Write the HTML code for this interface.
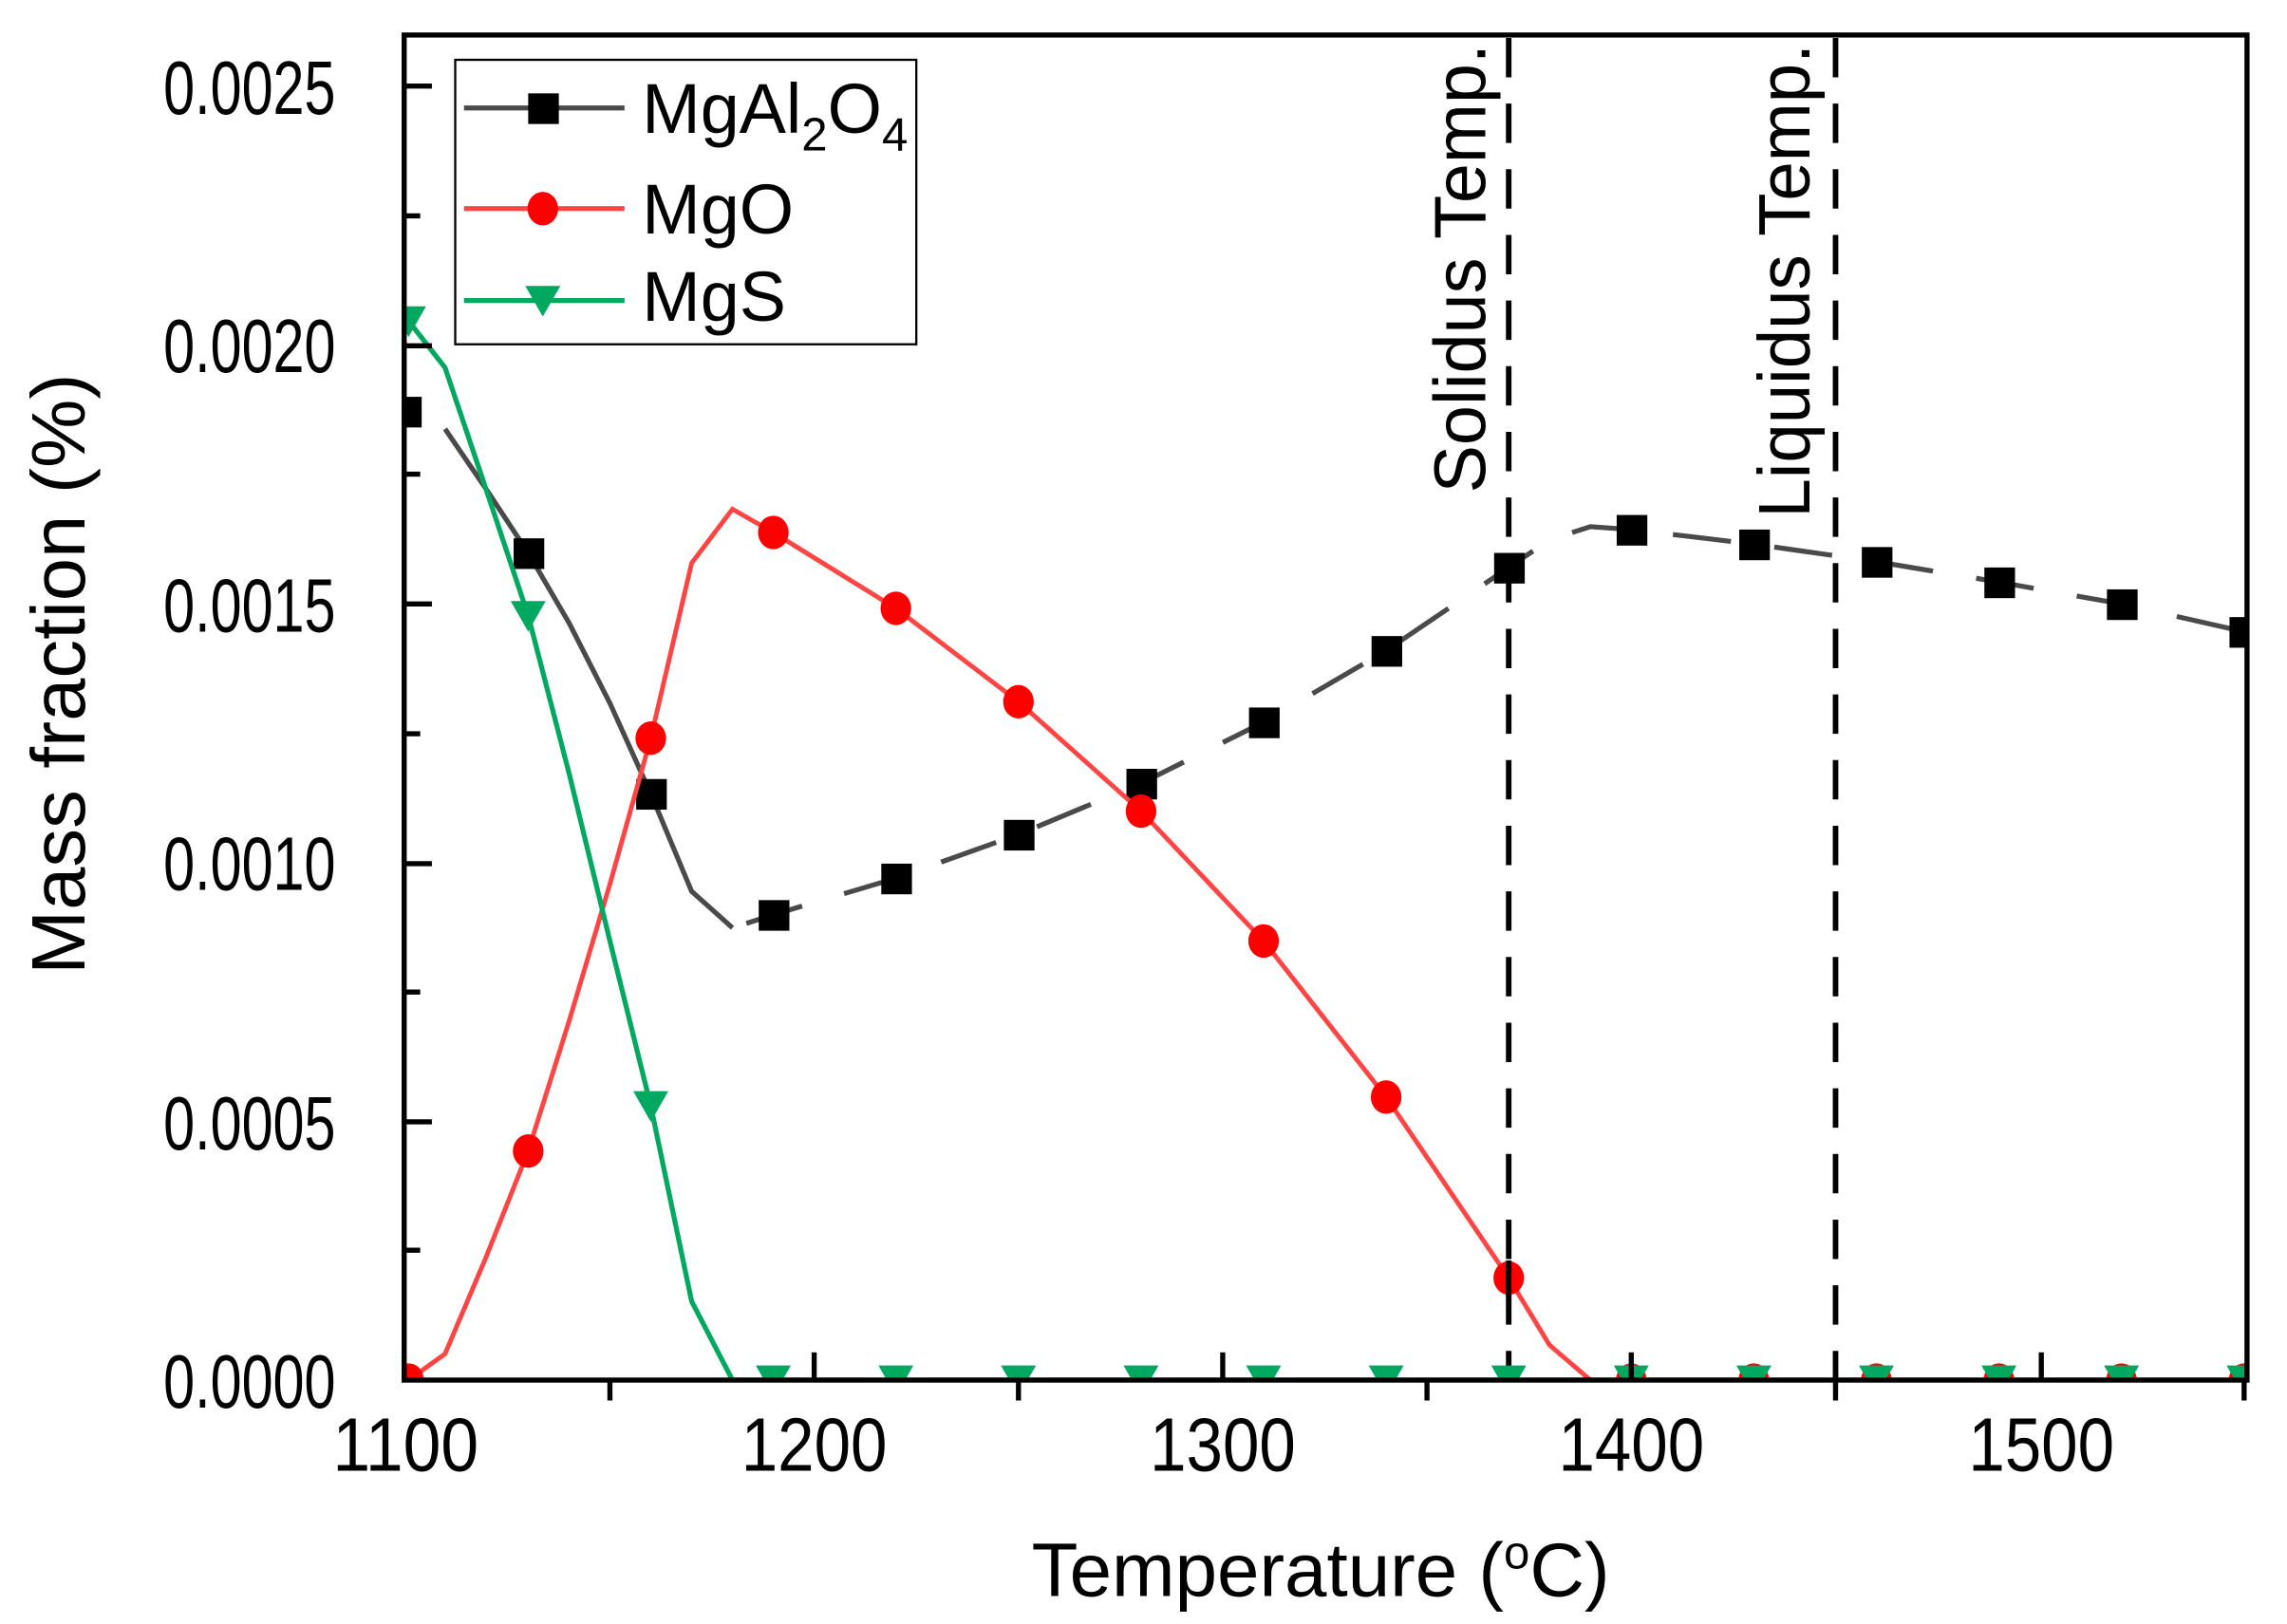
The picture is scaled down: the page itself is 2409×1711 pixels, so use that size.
<!DOCTYPE html>
<html><head><meta charset="utf-8"><style>html,body{margin:0;padding:0;background:#fff}svg{display:block}</style></head>
<body>
<svg width="2409" height="1711" viewBox="0 0 1567.4 1113.2" preserveAspectRatio="none" xmlns="http://www.w3.org/2000/svg" font-family="Liberation Sans, Arial, sans-serif">
<defs>
<clipPath id="c"><rect x="277" y="24" width="1263" height="922"/></clipPath>
</defs>
<rect width="1567.4" height="1113.2" fill="#fff"/>
<g clip-path="url(#c)">
<line x1="1034" y1="26" x2="1034" y2="946" stroke="#000" stroke-width="3.8" stroke-dasharray="27,18"/>
<line x1="1258" y1="26" x2="1258" y2="946" stroke="#000" stroke-width="3.8" stroke-dasharray="27,18"/>
<polyline fill="none" stroke="#4a4a4a" stroke-width="3.4" points="305,294 333,335 362,379 390,427 418,482 446,544 474,611 502,636"/>
<polyline fill="none" stroke="#4a4a4a" stroke-width="3.4" stroke-dasharray="40,30" stroke-dashoffset="-10" points="502,636 530,627 614,602 698,572 782,537 866,495 950,446 1034,389 1062,370 1090,361 1118,363 1202,373 1286,385 1370,399 1454,414 1538,433"/>
<g fill="#000">
<rect x="268" y="272" width="21" height="21"/><rect x="352" y="369" width="21" height="21"/><rect x="436" y="534" width="21" height="21"/><rect x="520" y="617" width="21" height="21"/><rect x="604" y="592" width="21" height="21"/><rect x="688" y="562" width="21" height="21"/><rect x="772" y="527" width="21" height="21"/><rect x="856" y="485" width="21" height="21"/><rect x="940" y="436" width="21" height="21"/><rect x="1024" y="379" width="21" height="21"/><rect x="1108" y="353" width="21" height="21"/><rect x="1192" y="363" width="21" height="21"/><rect x="1276" y="375" width="21" height="21"/><rect x="1360" y="389" width="21" height="21"/><rect x="1444" y="404" width="21" height="21"/><rect x="1528" y="423" width="21" height="21"/>
</g>
<polyline fill="none" stroke="#ff4444" stroke-width="3.2" points="280,946 305,928 333,862 362,789 390,700 418,606 446,506 474,386 502,349 530,365 614,417 698,481 782,556 866,645 950,752 1034,876 1062,922 1090,946 1540,946"/>
<g fill="#ff0000">
<ellipse cx="280" cy="946" rx="10.5" ry="11.5"/><ellipse cx="362" cy="789" rx="10.5" ry="11.5"/><ellipse cx="446" cy="506" rx="10.5" ry="11.5"/><ellipse cx="530" cy="365" rx="10.5" ry="11.5"/><ellipse cx="614" cy="417" rx="10.5" ry="11.5"/><ellipse cx="698" cy="481" rx="10.5" ry="11.5"/><ellipse cx="782" cy="556" rx="10.5" ry="11.5"/><ellipse cx="866" cy="645" rx="10.5" ry="11.5"/><ellipse cx="950" cy="752" rx="10.5" ry="11.5"/><ellipse cx="1034" cy="876" rx="10.5" ry="11.5"/><ellipse cx="1118" cy="946" rx="10.5" ry="11.5"/><ellipse cx="1202" cy="946" rx="10.5" ry="11.5"/><ellipse cx="1286" cy="946" rx="10.5" ry="11.5"/><ellipse cx="1370" cy="946" rx="10.5" ry="11.5"/><ellipse cx="1454" cy="946" rx="10.5" ry="11.5"/><ellipse cx="1538" cy="946" rx="10.5" ry="11.5"/>
</g>
<line x1="1034" y1="864" x2="1034" y2="889" stroke="#000" stroke-width="3.8"/>
<polyline fill="none" stroke="#00a860" stroke-width="3.4" points="280,220 305,252 333,335 362,422 390,530 418,645 446,758 474,892 502,946 1540,946" />
<g fill="#00a860">
<path d="M268,210 h24 l-12,21 z"/><path d="M350,412 h24 l-12,21 z"/><path d="M434,748 h24 l-12,21 z"/>
<path d="M518,936 h24 l-12,21 z"/><path d="M602,936 h24 l-12,21 z"/><path d="M686,936 h24 l-12,21 z"/><path d="M770,936 h24 l-12,21 z"/><path d="M854,936 h24 l-12,21 z"/><path d="M938,936 h24 l-12,21 z"/><path d="M1022,936 h24 l-12,21 z"/><path d="M1106,936 h24 l-12,21 z"/><path d="M1190,936 h24 l-12,21 z"/><path d="M1274,936 h24 l-12,21 z"/><path d="M1358,936 h24 l-12,21 z"/><path d="M1442,936 h24 l-12,21 z"/><path d="M1526,936 h24 l-12,21 z"/>
</g>
</g>
<rect x="277" y="24" width="1263" height="922" fill="none" stroke="#000" stroke-width="3.5"/>
<g stroke="#000" stroke-width="3.5">
<line x1="277" y1="59" x2="296" y2="59"/><line x1="277" y1="237" x2="296" y2="237"/><line x1="277" y1="414" x2="296" y2="414"/><line x1="277" y1="592" x2="296" y2="592"/><line x1="277" y1="769" x2="296" y2="769"/>
<line x1="277" y1="148" x2="288" y2="148"/><line x1="277" y1="325" x2="288" y2="325"/><line x1="277" y1="503" x2="288" y2="503"/><line x1="277" y1="680" x2="288" y2="680"/><line x1="277" y1="857" x2="288" y2="857"/>
<line x1="558" y1="946" x2="558" y2="927"/><line x1="838" y1="946" x2="838" y2="927"/><line x1="1118" y1="946" x2="1118" y2="927"/><line x1="1399" y1="946" x2="1399" y2="927"/>
<line x1="418" y1="946" x2="418" y2="960"/><line x1="698" y1="946" x2="698" y2="960"/><line x1="978" y1="946" x2="978" y2="960"/><line x1="1258" y1="946" x2="1258" y2="960"/><line x1="1538" y1="946" x2="1538" y2="960"/>
</g>
<g font-size="52" fill="#000">
<text x="112" y="78" textLength="118" lengthAdjust="spacingAndGlyphs">0.0025</text><text x="112" y="255" textLength="118" lengthAdjust="spacingAndGlyphs">0.0020</text><text x="112" y="433" textLength="118" lengthAdjust="spacingAndGlyphs">0.0015</text><text x="112" y="610" textLength="118" lengthAdjust="spacingAndGlyphs">0.0010</text><text x="112" y="788" textLength="118" lengthAdjust="spacingAndGlyphs">0.0005</text><text x="112" y="965" textLength="118" lengthAdjust="spacingAndGlyphs">0.0000</text>
</g>
<g font-size="52" fill="#000">
<text x="228" y="1008" textLength="100" lengthAdjust="spacingAndGlyphs">1100</text><text x="508" y="1008" textLength="100" lengthAdjust="spacingAndGlyphs">1200</text><text x="788" y="1008" textLength="100" lengthAdjust="spacingAndGlyphs">1300</text><text x="1068" y="1008" textLength="100" lengthAdjust="spacingAndGlyphs">1400</text><text x="1349" y="1008" textLength="100" lengthAdjust="spacingAndGlyphs">1500</text>
</g>
<text x="707" y="1094" font-size="52">Temperature (<tspan dy="-19" font-size="32">o</tspan><tspan dy="19">C)</tspan></text>
<text transform="translate(58,462) rotate(-90)" font-size="52" text-anchor="middle" textLength="412" lengthAdjust="spacingAndGlyphs">Mass fraction (%)</text>
<text transform="translate(1018,338) rotate(-90)" font-size="50" textLength="308" lengthAdjust="spacingAndGlyphs">Solidus Temp.</text>
<text transform="translate(1240,355) rotate(-90)" font-size="50" textLength="325" lengthAdjust="spacingAndGlyphs">Liquidus Temp.</text>
<rect x="312" y="41" width="316" height="195" fill="#fff" stroke="#000" stroke-width="1.5"/>
<line x1="318" y1="74" x2="428" y2="74" stroke="#4a4a4a" stroke-width="3.4"/><rect x="362" y="64" width="21" height="21" fill="#000"/>
<line x1="318" y1="143" x2="428" y2="143" stroke="#ff4444" stroke-width="3.4"/><ellipse cx="372" cy="143" rx="10.5" ry="11.5" fill="#ff0000"/>
<line x1="318" y1="206" x2="428" y2="206" stroke="#00a860" stroke-width="3.4"/><path d="M360,196 h24 l-12,21 z" fill="#00a860"/>
<g font-size="48" fill="#000">
<text x="440" y="91">MgAl<tspan dy="12" font-size="32">2</tspan><tspan dy="-12">O</tspan><tspan dy="12" font-size="32">4</tspan></text>
<text x="440" y="160">MgO</text>
<text x="440" y="220">MgS</text>
</g>
</svg>
</body></html>
